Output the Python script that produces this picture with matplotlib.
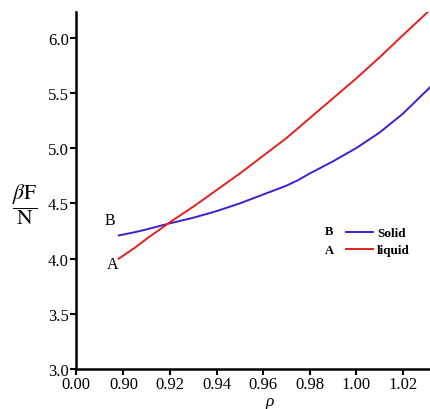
import matplotlib
matplotlib.use("Agg")
import matplotlib.pyplot as plt
from matplotlib.lines import Line2D

# Data
liquid_x = [0.898, 0.905, 0.91, 0.92, 0.93, 0.94, 0.95, 0.96, 0.97, 0.98, 0.99, 1.00, 1.01, 1.02, 1.0317]
liquid_y = [4.00, 4.10, 4.18, 4.33, 4.47, 4.62, 4.77, 4.93, 5.09, 5.27, 5.45, 5.63, 5.82, 6.02, 6.25]
solid_x = [0.898, 0.905, 0.91, 0.92, 0.93, 0.94, 0.95, 0.96, 0.97, 0.975, 0.98, 0.99, 1.00, 1.01, 1.02, 1.0317]
solid_y = [4.21, 4.24, 4.265, 4.32, 4.37, 4.43, 4.50, 4.58, 4.66, 4.71, 4.77, 4.88, 5.00, 5.14, 5.31, 5.55]

x_left = 0.8795
x_right = 1.0317
xtick_vals = [x_left, 0.90, 0.92, 0.94, 0.96, 0.98, 1.00, 1.02]
xtick_labels = ['0.00', '0.90', '0.92', '0.94', '0.96', '0.98', '1.00', '1.02']
ytick_vals = [3.0, 3.5, 4.0, 4.5, 5.0, 5.5, 6.0]
ytick_labels = ['3.0', '3.5', '4.0', '4.5', '5.0', '5.5', '6.0']

plt.rcParams['font.family'] = ['Liberation Serif', 'DejaVu Serif']
plt.rcParams['mathtext.fontset'] = 'stix'

blue = '#3d1fd8'
red = '#e5201c'

fig = plt.figure(figsize=(4.3, 4.1), dpi=100)
ax = fig.add_axes([0.176, 0.097, 0.824, 0.871])

ax.plot(solid_x, solid_y, color=blue, lw=1.4, label='Solid')
ax.plot(liquid_x, liquid_y, color=red, lw=1.4, label='liquid')

ax.set_xlim(x_left, x_right)
ax.set_ylim(3.0, 6.23)
ax.set_xticks(xtick_vals)
ax.set_xticklabels(xtick_labels)
ax.set_yticks(ytick_vals)
ax.set_yticklabels(ytick_labels)

for s in ['top', 'right']:
    ax.spines[s].set_visible(False)
for s in ['left', 'bottom']:
    ax.spines[s].set_linewidth(1.8)
ax.tick_params(axis='both', direction='out', length=4, width=1.5, labelsize=12, pad=1)

ax.text(0.8942, 4.35, 'B', fontsize=11.5, ha='center', va='center')
ax.text(0.8952, 3.95, 'A', fontsize=11.5, ha='center', va='center')

handles = [Line2D([0], [0], color=blue, lw=1.4), Line2D([0], [0], color=red, lw=1.4)]
leg = ax.legend(handles, ['Solid', 'liquid'], loc='center left',
                bbox_to_anchor=(0.73, 0.357), frameon=False,
                handlelength=2.0, handletextpad=0.35, labelspacing=0.35,
                prop={'family': 'Liberation Serif', 'weight': 'bold', 'size': 9.5})
fig.text(0.765, 0.433, 'B', fontsize=9, fontweight='bold', ha='center', va='center')
fig.text(0.765, 0.388, 'A', fontsize=9, fontweight='bold', ha='center', va='center')

fig.text(0.058, 0.5, r'$\dfrac{\beta\mathrm{F}}{\mathrm{N}}$', fontsize=15.5, ha='center', va='center')
fig.text(0.627, 0.0, 'ρ', fontsize=12.5, style='italic', ha='center', va='bottom')

fig.savefig('out.png', dpi=100)
